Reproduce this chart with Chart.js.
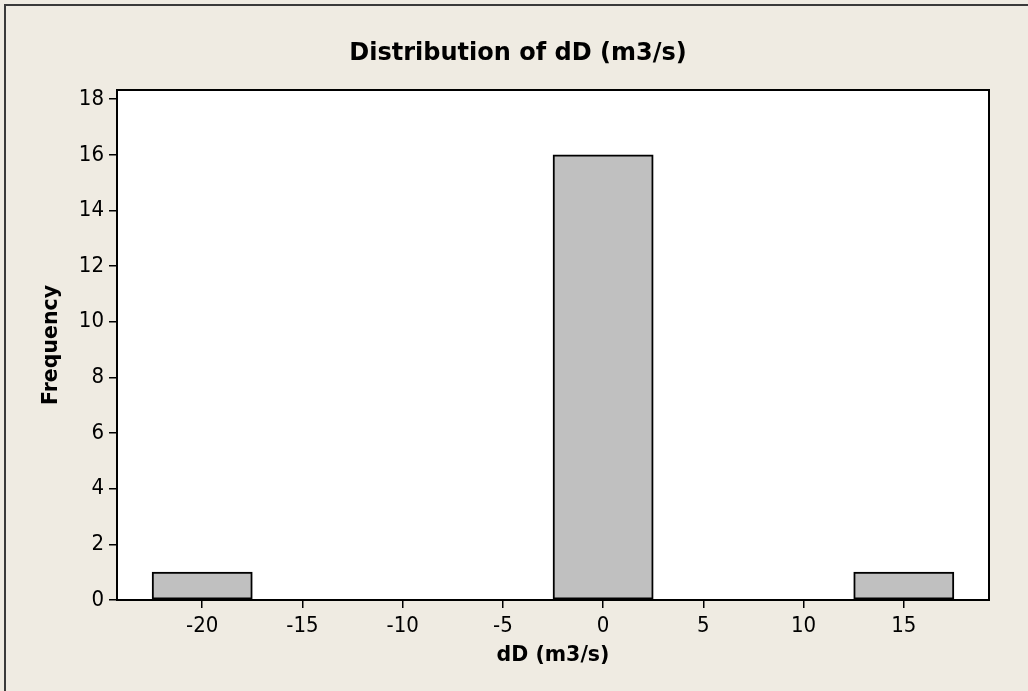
<!DOCTYPE html>
<html>
<head>
<meta charset="utf-8">
<script src="https://cdn.jsdelivr.net/npm/chart.js@4.4.1/dist/chart.umd.min.js"></script>
<style>
  html, body { margin: 0; padding: 0; background: #EFEBE2; }
  #wrap { position: relative; width: 1028px; height: 691px; }
  canvas { display: block; }
</style>
</head>
<body>
<div id="wrap"><canvas id="c" width="1028" height="691"></canvas></div>
<script>
// ---- data ----
const binCenters = [-20, -15, -10, -5, 0, 5, 10, 15];
const frequencies = [1, 0, 0, 0, 16, 0, 0, 1];
const xTickValues = [-20, -15, -10, -5, 0, 5, 10, 15];
const yTickValues = [0, 2, 4, 6, 8, 10, 12, 14, 16, 18];
const chartTitle = 'Distribution of dD (m3/s)';
const xTitle = 'dD (m3/s)';
const yTitle = 'Frequency';

const FONT = "'DejaVu Sans Condensed', 'DejaVu Sans', sans-serif";
const TFONT = "'DejaVu Sans', sans-serif";

const framePlugin = {
  id: 'frame',
  beforeDraw(chart) {
    const { ctx, chartArea: a } = chart;
    ctx.save();
    ctx.fillStyle = '#EFEBE2';
    ctx.fillRect(0, 0, chart.width, chart.height);
    ctx.strokeStyle = '#3a3a3a';
    ctx.lineWidth = 2;
    ctx.beginPath();
    ctx.moveTo(5, chart.height);
    ctx.lineTo(5, 5);
    ctx.lineTo(chart.width, 5);
    ctx.stroke();
    ctx.fillStyle = '#ffffff';
    ctx.fillRect(a.left, a.top, a.right - a.left, a.bottom - a.top);
    ctx.restore();
  },
  afterDraw(chart) {
    const { ctx, chartArea: a } = chart;
    ctx.save();
    ctx.strokeStyle = '#000';
    ctx.lineWidth = 2;
    ctx.strokeRect(a.left, a.top, a.right - a.left, a.bottom - a.top);
    ctx.restore();
  }
};

new Chart(document.getElementById('c'), {
  type: 'bar',
  data: {
    datasets: [{
      data: binCenters.map((x, i) => ({ x: x, y: frequencies[i] })),
      backgroundColor: '#C0C0C0',
      borderColor: '#000000',
      borderWidth: 2,
      borderSkipped: false,
      barPercentage: 1.0,
      categoryPercentage: 1.0
    }]
  },
  plugins: [framePlugin],
  options: {
    responsive: false,
    animation: false,
    layout: { padding: { left: 47, right: 39, top: 0, bottom: 0 } },
    plugins: {
      legend: { display: false },
      tooltip: { enabled: false },
      title: {
        display: true,
        text: chartTitle,
        color: '#000',
        font: { family: TFONT, size: 24, weight: 'bold', lineHeight: 1.2 },
        padding: { top: 39.6, bottom: 21.6 }
      }
    },
    scales: {
      x: {
        type: 'linear',
        min: -24.25,
        max: 19.25,
        offset: false,
        afterBuildTicks(scale) { scale.ticks = xTickValues.map(v => ({ value: v })); },
        afterFit(scale) { scale.height = 91; },
        grid: { offset: false, drawOnChartArea: false, drawTicks: true, tickLength: 8, color: '#000', lineWidth: 1.5 },
        border: { display: true, color: '#000', width: 2 },
        ticks: { color: '#000', font: { family: FONT, size: 22 }, padding: 5, maxRotation: 0, autoSkip: false },
        title: { display: true, text: xTitle, color: '#000', font: { family: TFONT, size: 20.5, weight: 'bold', lineHeight: 1.2 }, padding: { top: 0, bottom: 22.7 } }
      },
      y: {
        type: 'linear',
        min: 0,
        max: 18.33,
        afterBuildTicks(scale) { scale.ticks = yTickValues.map(v => ({ value: v })); },
        afterFit(scale) { scale.width = 70; },
        grid: { drawOnChartArea: false, drawTicks: true, tickLength: 8, color: '#000', lineWidth: 1.5 },
        border: { display: true, color: '#000', width: 2 },
        ticks: { color: '#000', font: { family: FONT, size: 22 }, padding: 5 },
        title: { display: true, text: yTitle, color: '#000', font: { family: TFONT, size: 20.5, weight: 'bold', lineHeight: 1.2 }, padding: { top: -7.3, bottom: 0 } }
      }
    }
  }
});
</script>
</body>
</html>
